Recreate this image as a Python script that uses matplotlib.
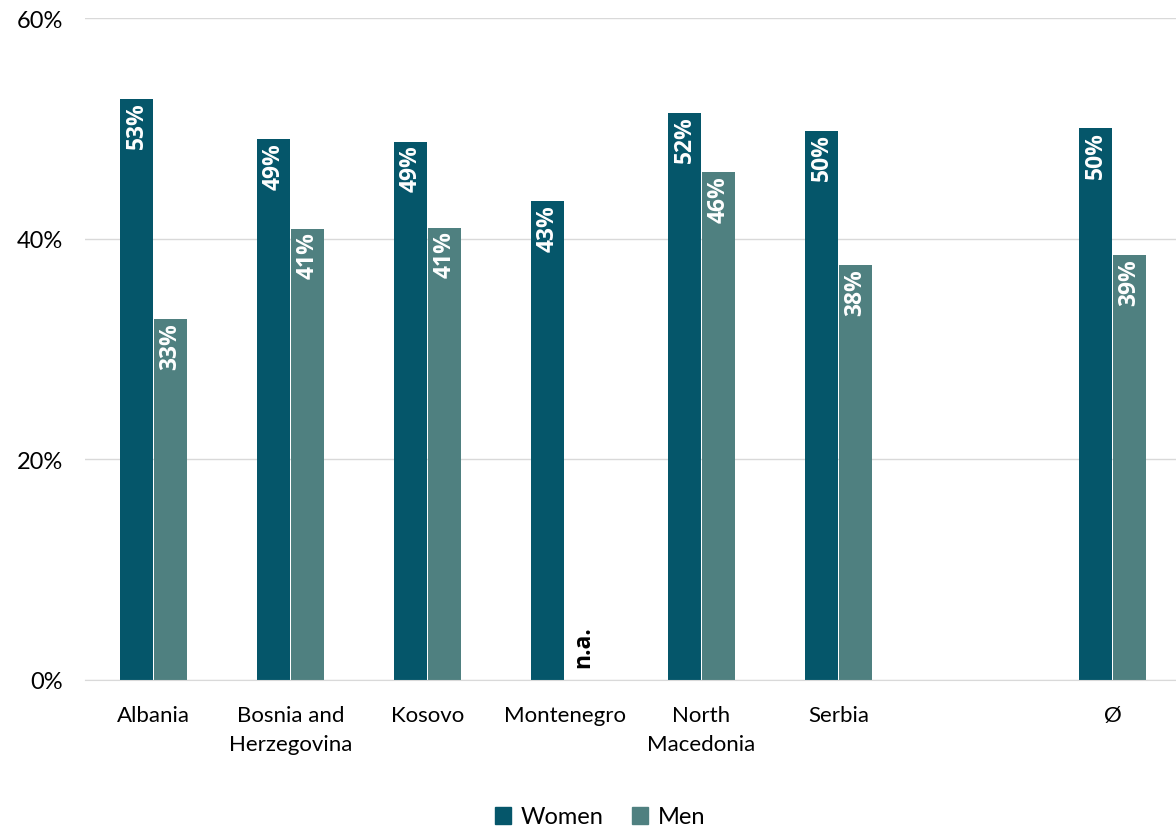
import matplotlib
matplotlib.use("Agg")
import matplotlib.pyplot as plt
import numpy as np
from matplotlib.patches import Patch

plt.rcParams['font.family'] = ['Lato', 'DejaVu Sans']

categories = ["Albania", "Bosnia and\nHerzegovina", "Kosovo", "Montenegro",
              "North\nMacedonia", "Serbia", "", "Ø"]
women = [52.7, 49.0, 48.8, 43.4, 51.4, 49.8, np.nan, 50.0]
men = [32.7, 40.9, 41.0, np.nan, 46.0, 37.6, np.nan, 38.5]
women_labels = ["53%", "49%", "49%", "43%", "52%", "50%", "", "50%"]
men_labels = ["33%", "41%", "41%", "n.a.", "46%", "38%", "", "39%"]
yticks = [0, 20, 40, 60]
ytick_labels = ["0%", "20%", "40%", "60%"]

c_women = "#05566a"
c_men = "#4f8080"

fig = plt.figure(figsize=(11.76, 8.29), dpi=100)
ax = fig.add_axes([85/1176, 1-681/829, (1181-85)/1176, (681-19)/829])

x = np.arange(len(categories))
w = 0.235
gap = 0.012
ax.bar(x - w/2 - gap/2, women, width=w, color=c_women)
ax.bar(x + w/2 + gap/2, men, width=w, color=c_men)

lab_kw = dict(rotation=90, ha="center", fontsize=16.5, fontweight="bold",
              fontstyle="normal", family=["Open Sans", "DejaVu Sans"])
for i in range(len(categories)):
    if not np.isnan(women[i]):
        ax.annotate(women_labels[i], (x[i] - w/2 - gap/2, women[i]),
                    xytext=(0, -2), textcoords="offset points",
                    va="top", color="white", **lab_kw)
    if not np.isnan(men[i]):
        ax.annotate(men_labels[i], (x[i] + w/2 + gap/2, men[i]),
                    xytext=(0, -2), textcoords="offset points",
                    va="top", color="white", **lab_kw)
    elif men_labels[i]:
        ax.annotate(men_labels[i], (x[i] + w/2 + gap/2, 0),
                    xytext=(1, 9), textcoords="offset points",
                    va="bottom", color="black", **lab_kw)

ax.set_xlim(-0.5, 7.5)
ax.set_ylim(0, 60)
ax.set_yticks(yticks)
ax.set_yticklabels(ytick_labels, fontsize=17)
ax.set_xticks(x)
ax.set_xticklabels(categories, fontsize=16, linespacing=1.55)
ax.tick_params(axis="both", length=0)
ax.tick_params(axis="y", pad=16)
ax.tick_params(axis="x", pad=18)
ax.grid(axis="y", color="#d9d9d9", linewidth=1)
ax.set_axisbelow(True)
for s in ["top", "right", "left"]:
    ax.spines[s].set_visible(False)
ax.spines["bottom"].set_color("#d9d9d9")

handles = [Patch(color=c_women, label="Women"), Patch(color=c_men, label="Men")]
fig.legend(handles=handles, loc="center", bbox_to_anchor=(600/1176, 1-818/829),
           ncol=2, frameon=False, fontsize=17, handlelength=0.7, handleheight=0.7,
           handletextpad=0.4, columnspacing=1.2)

fig.savefig("out.png", dpi=100)
